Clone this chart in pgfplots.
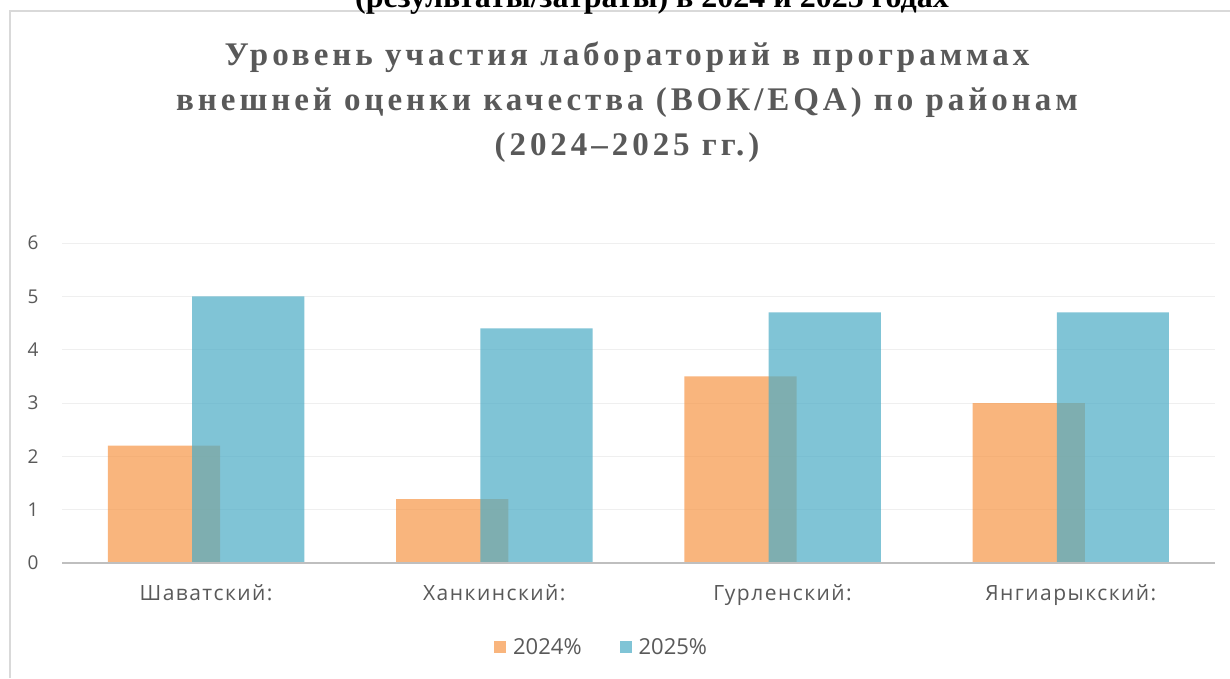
\documentclass[border=0pt]{standalone}
\usepackage{fontspec}
\setmainfont{Liberation Serif}
\newfontfamily\labfont{Open Sans}
\newfontfamily\catfont[LetterSpace=7]{Open Sans}
\newfontfamily\titlefont[LetterSpace=12]{Liberation Serif}
\usepackage{pgfplots}
\pgfplotsset{compat=1.18}
\definecolor{c24}{HTML}{F79646}
\definecolor{c25}{HTML}{4BACC6}
\definecolor{txt}{HTML}{595959}
\definecolor{framec}{HTML}{D9D9D9}
\definecolor{gridc}{HTML}{EFEFEF}
\definecolor{axisc}{HTML}{BFBFBF}
\begin{document}
\begin{tikzpicture}[x=1pt,y=1pt]
\useasboundingbox (0,0) rectangle (1230,678);
\clip (0,0) rectangle (1230,678);
\fill[white] (0,0) rectangle (1230,678);
\draw[color=framec, line width=1.3pt] (10,0) -- (10,667) -- (1230,667);
\node[anchor=base, inner sep=0pt, font=\bfseries\fontsize{32}{36}\selectfont] at (652,670) {(результаты/затраты) в 2024 и 2025 годах};
\node[align=center, inner sep=0pt, text=txt, font=\titlefont\bfseries\fontsize{33}{45}\selectfont] at (627,576)
  {Уровень участия лабораторий в программах\\внешней оценки качества (ВОК/EQA) по районам\\(2024–2025 гг.)};
\begin{axis}[
  at={(62pt,115pt)}, anchor=south west, scale only axis,
  width=1153pt, height=320pt,
  xmin=-0.5, xmax=3.5, ymin=0, ymax=6,
  ytick={0,1,2,3,4,5,6},
  xtick={0,1,2,3},
  xticklabels={Шаватский:, Ханкинский:, Гурленский:, Янгиарыкский:},
  major tick length=0pt,
  axis line style={draw=none},
  ymajorgrids, grid style={color=gridc, line width=1pt},
  /pgf/number format/assume math mode=true,
  yticklabel style={font=\labfont\fontsize{19}{22}\selectfont, text=txt, anchor=east, xshift=-20pt},
  xticklabel style={font=\catfont\fontsize{21}{25}\selectfont, text=txt, anchor=north, yshift=-18pt},
  legend columns=2,
  legend style={draw=none, at={(0.468,-0.2625)}, anchor=center, font=\labfont\fontsize{22}{26}\selectfont, text=txt,
    /tikz/every even column/.style={column sep=36pt},
    /tikz/every odd column/.style={column sep=5pt}, inner sep=0pt},
  legend image code/.code={\fill[#1] (0pt,-6pt) rectangle (12pt,6pt);},
]
\addplot[ybar, bar width=0.389, bar shift=-0.146, fill=c24, fill opacity=0.7, draw=none]
  coordinates {(0,2.2) (1,1.2) (2,3.5) (3,3.0)};
\addplot[ybar, bar width=0.389, bar shift=0.146, fill=c25, fill opacity=0.7, draw=none]
  coordinates {(0,5.0) (1,4.4) (2,4.7) (3,4.7)};
\legend{2024\%, 2025\%}
\draw[color=axisc, line width=2pt] (rel axis cs:0,0) -- (rel axis cs:1,0);
\end{axis}
\end{tikzpicture}
\end{document}
